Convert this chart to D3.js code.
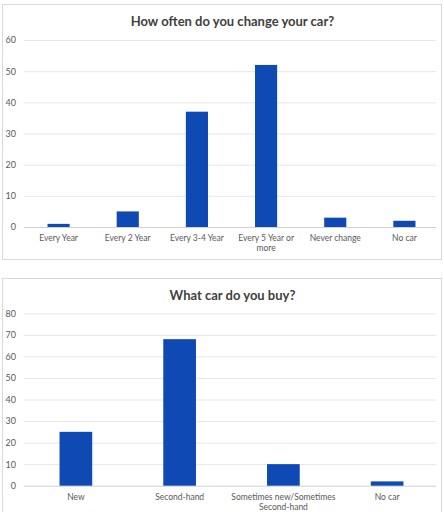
<!DOCTYPE html>
<html><head><meta charset="utf-8">
<script src="https://cdn.jsdelivr.net/npm/d3@7"></script>
<style>
html,body{margin:0;padding:0;background:#fff;}
svg{display:block;}
</style></head>
<body>
<svg id="c" width="444" height="512"></svg>
<script>
const freqCategories = ["Every Year", "Every 2 Year", "Every 3-4 Year", "Every 5 Year or more", "Never change", "No car"];
const freqValues = [1, 5, 37, 52, 3, 2];
const freqTicks = [0, 10, 20, 30, 40, 50, 60];
const freqTitle = "How often do you change your car?";

const buyCategories = ["New", "Second-hand", "Sometimes new/Sometimes Second-hand", "No car"];
const buyValues = [25, 68, 10, 2];
const buyTicks = [0, 10, 20, 30, 40, 50, 60, 70, 80];
const buyTitle = "What car do you buy?";

const svg = d3.select("#c");
const FONT = "Lato, 'Open Sans', sans-serif";
const BAR = "#0f49b4";
const TXT = "#595959";

function wrapLabel(text, width) {
  text.each(function() {
    const t = d3.select(this);
    const words = t.text().split(/\s+/);
    t.text(null);
    let line = [];
    let tspan = t.append("tspan").attr("x", 0).attr("dy", "0.71em");
    for (const w of words) {
      line.push(w);
      tspan.text(line.join(" "));
      if (tspan.node().getComputedTextLength() > width && line.length > 1) {
        line.pop();
        tspan.text(line.join(" "));
        line = [w];
        tspan = t.append("tspan").attr("x", 0).attr("dy", "1.2em").text(w);
      }
    }
  });
}

function drawChart(o) {
  const g = svg.append("g");
  g.append("rect").attr("x", o.box[0] + 0.5).attr("y", o.box[1] + 0.5)
    .attr("width", o.box[2]).attr("height", o.box[3])
    .attr("fill", "#fff").attr("stroke", "#d9d9d9").attr("stroke-width", 1);
  g.append("text").attr("x", (o.x0 + o.x1) / 2 + 1).attr("y", o.titleY)
    .attr("text-anchor", "middle").attr("font-family", FONT)
    .attr("font-size", o.titleSize).attr("font-weight", 700).attr("fill", "#404040")
    .text(o.title);

  const x = d3.scaleBand().domain(o.cats).range([o.x0, o.x1]).paddingInner(o.pad).paddingOuter(o.pad / 2);
  const y = d3.scaleLinear().domain([0, d3.max(o.ticks)]).range([o.y0, o.y1]);

  const yAxis = d3.axisLeft(y).tickValues(o.ticks).tickSize(-(o.x1 - o.x0 - 3)).tickPadding(8);
  const ya = g.append("g").attr("transform", `translate(${o.x0},0)`).call(yAxis);
  ya.select(".domain").remove();
  ya.selectAll(".tick line").attr("stroke", "#e6e6e6");
  ya.selectAll(".tick text").attr("font-family", FONT).attr("font-size", 9).attr("fill", TXT);
  ya.selectAll(".tick").filter(d => d === 0).select("line").attr("stroke", "#d0d0d0");

  g.selectAll("rect.bar").data(o.vals).enter().append("rect").attr("class", "bar")
    .attr("x", (d, i) => x(o.cats[i])).attr("width", x.bandwidth())
    .attr("y", d => y(d)).attr("height", d => y(0) - y(d)).attr("fill", BAR);

  const xAxis = d3.axisBottom(x).tickSize(0).tickPadding(8);
  const xa = g.append("g").attr("transform", `translate(0,${o.y0})`).call(xAxis);
  xa.select(".domain").remove();
  xa.selectAll(".tick text").attr("font-family", FONT).attr("font-size", 8.5).attr("fill", TXT)
    .attr("dy", null).call(wrapLabel, o.wrapW);
}

drawChart({
  box: [2, 4, 439, 255], title: freqTitle, titleY: 26, titleSize: 13,
  cats: freqCategories, vals: freqValues, ticks: freqTicks,
  x0: 24, x1: 439, y0: 227, y1: 40, pad: 0.68, wrapW: 60
});

drawChart({
  box: [2, 278, 439, 240], title: buyTitle, titleY: 300, titleSize: 13,
  cats: buyCategories, vals: buyValues, ticks: buyTicks,
  x0: 24, x1: 439, y0: 485.7, y1: 313.3, pad: 0.685, wrapW: 120
});
</script>
</body></html>
